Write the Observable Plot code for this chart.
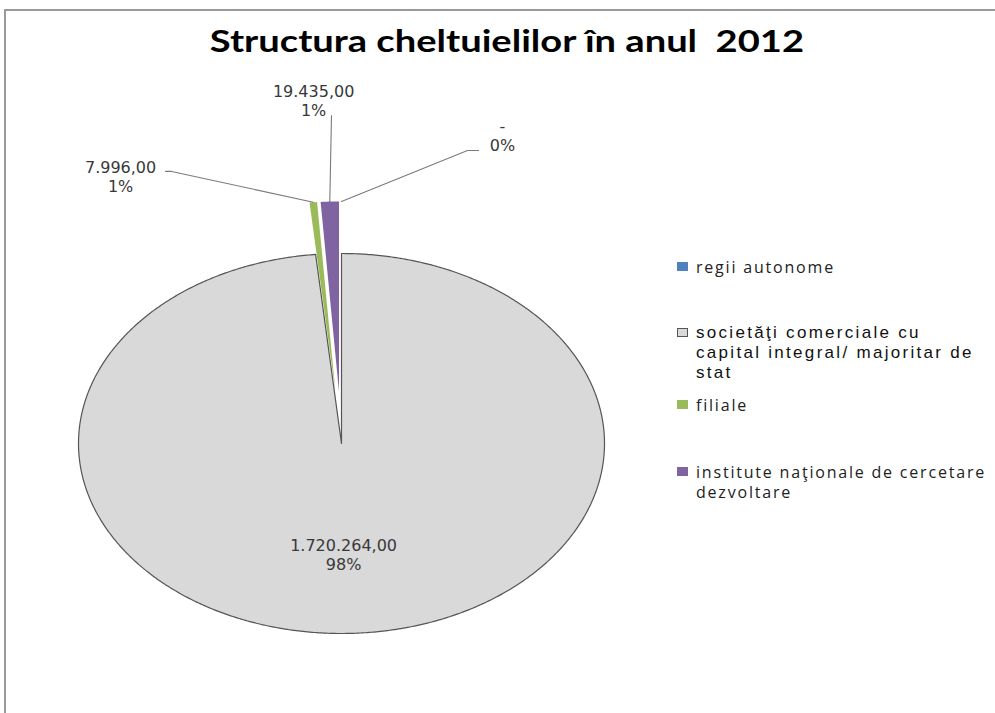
<!DOCTYPE html>
<html><head><meta charset="utf-8">
<script src="https://cdn.jsdelivr.net/npm/d3@7"></script>
<script src="https://cdn.jsdelivr.net/npm/@observablehq/plot@0.6"></script>
<style>
html,body{margin:0;padding:0;background:#fff;overflow:hidden;}
#wrap{position:relative;width:995px;height:713px;overflow:hidden;}
#frame{position:absolute;left:4px;top:9px;width:3000px;height:3000px;border-left:2px solid #999;border-top:2px solid #999;box-sizing:border-box;}
#chart{position:absolute;left:0;top:0;}
#title{position:absolute;left:0;width:1014px;top:22px;text-align:center;font-family:Lato;font-weight:bold;font-size:30px;color:#000;white-space:pre;}
#title span{display:inline-block;transform:scaleX(1.27);transform-origin:center;}
.item{position:absolute;left:677px;color:#222;line-height:20px;}
.sw{position:absolute;left:0;top:5px;width:11px;height:9px;box-sizing:border-box;}
.lab{position:absolute;left:19px;white-space:pre;}
</style></head>
<body><div id="wrap"><div id="frame"></div><div id="chart"></div><div id="title"></div><div id="legend"></div></div>
<script>
const title = "Structura cheltuielilor în anul  2012";
const categories = ["regii autonome", "societăţi comerciale cu capital integral/ majoritar de stat", "filiale", "institute naţionale de cercetare dezvoltare"];
const legendLines = [["regii autonome"], ["societăţi comerciale cu", "capital integral/ majoritar de", "stat"], ["filiale"], ["institute naţionale de cercetare", "dezvoltare"]];
const values = [0, 1720264, 7996, 19435];
const valueLabels = ["-", "1.720.264,00", "7.996,00", "19.435,00"];
const percentLabels = ["0%", "98%", "1%", "1%"];
const exploded = [true, false, true, true];

// styles / layout (not data)
const colors = ["#4f81bd", "#d9d9d9", "#9bbb59", "#8064a2"];
const explodeDist = 0.274;
const labelPos = [[0.612, 1.621], [0.008, -0.584], [-0.840, 1.405], [-0.106, 1.805]];
const leaderPts = [[[0.479, 1.542], [0.521, 1.542]], [], [[-0.646, 1.432], [-0.669, 1.432]], [[-0.038, 1.726]]];
const legendTop = [257, 323, 395, 462];

const total = d3.sum(values);
let acc = 0;
const slices = values.map((v, i) => {
  const a0 = acc / total * 2 * Math.PI;
  acc += v;
  const a1 = acc / total * 2 * Math.PI;
  const am = (a0 + a1) / 2;
  const ox = exploded[i] ? Math.sin(am) * explodeDist : 0;
  const oy = exploded[i] ? Math.cos(am) * explodeDist : 0;
  return {name: categories[i], i, a0, a1, am, ox, oy, v};
});

const pts = [];
for (const s of slices) {
  if (s.v <= 0) continue;
  const n = Math.max(2, Math.ceil((s.a1 - s.a0) / (Math.PI / 360)));
  pts.push({name: s.name, x: s.ox, y: s.oy});
  for (let k = 0; k <= n; k++) {
    const a = s.a0 + (s.a1 - s.a0) * k / n;
    pts.push({name: s.name, x: s.ox + Math.sin(a), y: s.oy + Math.cos(a)});
  }
  pts.push({name: s.name, x: s.ox, y: s.oy});
}

const leaders = [];
slices.forEach((s, i) => {
  if (!leaderPts[i].length) return;
  leaders.push({id: i, x: s.ox + Math.sin(s.am), y: s.oy + Math.cos(s.am)});
  for (const p of leaderPts[i]) leaders.push({id: i, x: p[0], y: p[1]});
});

const labels = slices.map((s, i) => ({x: labelPos[i][0], y: labelPos[i][1], text: valueLabels[i] + "\n" + percentLabels[i]}));

const chart = Plot.plot({
  width: 995, height: 713,
  marginLeft: 78, marginRight: 391, marginTop: 253, marginBottom: 80,
  x: {domain: [-1, 1], axis: null},
  y: {domain: [-1, 1], axis: null},
  color: {domain: categories, range: colors},
  style: {overflow: "visible", background: "transparent"},
  marks: [
    Plot.line(pts, {x: "x", y: "y", z: "name", fill: "name", stroke: "none"}),
    Plot.line(pts.filter(d => d.name === categories[1]), {x: "x", y: "y", stroke: "#555", strokeWidth: 1.2, fill: "none"}),
    Plot.line(leaders, {x: "x", y: "y", z: "id", stroke: "#7a7a7a", strokeWidth: 1.1}),
    Plot.text(labels, {x: "x", y: "y", text: "text", fontSize: 16, fontFamily: "DejaVu Sans", fill: "#383838", lineHeight: 1.2, textAnchor: "middle", style: "letter-spacing:1.2px"})
  ]
});
document.getElementById("chart").appendChild(chart);
const tspan = document.createElement("span");
tspan.textContent = title;
document.getElementById("title").appendChild(tspan);

const leg = document.getElementById("legend");
legendLines.forEach((lines, i) => {
  const it = document.createElement("div");
  it.className = "item";
  it.style.top = legendTop[i] + "px";
  const sw = document.createElement("div");
  sw.className = "sw";
  sw.style.background = colors[i];
  if (i === 1) sw.style.border = "1px solid #555";
  it.appendChild(sw);
  const lab = document.createElement("div");
  lab.className = "lab";
  lab.textContent = lines.join("\n");
  if (i === 1) { lab.style.fontFamily = "Liberation Sans"; lab.style.fontSize = "17px"; lab.style.letterSpacing = "2.3px"; lab.style.color = "#111"; }
  else { lab.style.fontFamily = "Open Sans"; lab.style.fontSize = "16px"; lab.style.letterSpacing = "1.8px"; }
  it.appendChild(lab);
  leg.appendChild(it);
});
</script>
</body></html>
